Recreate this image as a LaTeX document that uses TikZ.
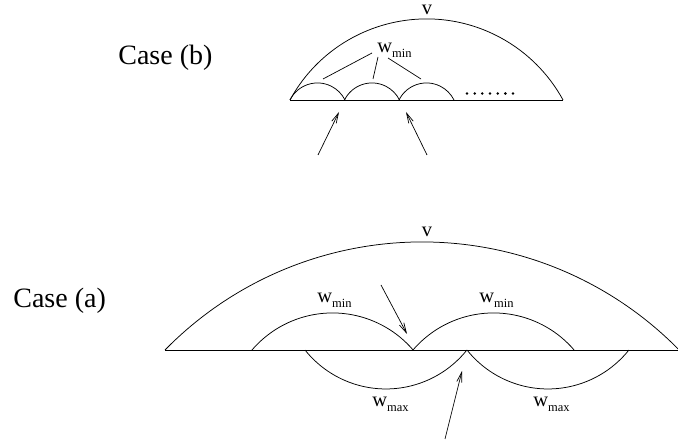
\documentclass[tikz,border=0pt]{standalone}
\usepackage{fontspec}
\setmainfont{Liberation Serif}
\usetikzlibrary{arrows.meta}
\newcommand{\wsub}[1]{w\raisebox{-4.5pt}{\fontsize{12.5}{13}\selectfont #1}}
\begin{document}
\begin{tikzpicture}[x=1pt,y=-1pt,line width=0.75pt,
  caselabel/.style={anchor=base west,inner sep=0pt,font=\fontsize{28}{30}\selectfont},
  wlabel/.style={anchor=base west,inner sep=0pt,font=\fontsize{20.5}{22}\selectfont},
  vlabel/.style={anchor=base,inner sep=0pt,font=\fontsize{20.5}{22}\selectfont},
  ptr/.style={-{Straight Barb[length=10pt,width=5pt]},line width=0.7pt},
  dotmark/.style={fill=black}]
\useasboundingbox (0,0) rectangle (678,443);

% ---------- Case (b) ----------
\node[caselabel] (caseb) at (118,65) {Case (b)};
\coordinate (bL) at (290,100);
\coordinate (bR) at (563,100);
\coordinate (b1) at (344.5,100);
\coordinate (b2) at (399,100);
\draw (bL) -- (bR);
\draw (bL) arc[start angle=151.4,end angle=28.6,radius=155.5pt];
\draw (bL) arc[start angle=153.6,end angle=26.4,radius=30.7pt];
\draw (b1) arc[start angle=153.6,end angle=26.4,radius=30.7pt];
\draw (b2) arc[start angle=153.6,end angle=26.4,radius=30.7pt];
\node[vlabel] (vb) at (427,15) {v};
\node[wlabel] (wb) at (377,53) {\wsub{min}};
\coordinate (t1) at (323,79);
\coordinate (t2) at (373,79);
\coordinate (t3) at (421,79);
\coordinate (s1) at (372,53);
\coordinate (s2) at (378,57);
\coordinate (s3) at (388,58);
\draw[line width=0.7pt] (s1) -- (t1);
\draw[line width=0.7pt] (s2) -- (t2);
\draw[line width=0.7pt] (s3) -- (t3);
\foreach \i in {0,...,6} \fill[dotmark] (467+7.67*\i,93.5) circle (1.4pt);
\coordinate (pb1s) at (318,155);
\coordinate (pb1e) at (339,112);
\coordinate (pb2s) at (427,155);
\coordinate (pb2e) at (406,112);
\draw[ptr] (pb1s) -- (pb1e);
\draw[ptr] (pb2s) -- (pb2e);

% ---------- Case (a) ----------
\node[caselabel] (casea) at (13,308) {Case (a)};
\coordinate (aL) at (165,350);
\coordinate (aR) at (678,350);
\coordinate (u0) at (252,350);
\coordinate (u1) at (413,350);
\coordinate (l0) at (305,350);
\coordinate (l1) at (467,350);
\draw[line width=0.9pt] (aL) -- (aR);
\draw (aL) arc[start angle=135.6,end angle=44.4,radius=359.8pt];
\draw (u0) arc[start angle=139.4,end angle=40.6,radius=106.1pt];
\draw (u1) arc[start angle=139.4,end angle=40.6,radius=106.1pt];
\draw (l0) arc[start angle=-141.4,end angle=-38.6,radius=103.6pt];
\draw (l1) arc[start angle=-141.4,end angle=-38.6,radius=103.6pt];
\node[vlabel] (va) at (427,237) {v};
\node[wlabel] (wa1) at (317,303) {\wsub{min}};
\node[wlabel] (wa2) at (479,303) {\wsub{min}};
\node[wlabel] (wa3) at (372,407) {\wsub{max}};
\node[wlabel] (wa4) at (533,407) {\wsub{max}};
\coordinate (pa1s) at (381,285);
\coordinate (pa1e) at (407,334);
\coordinate (pa2s) at (445,439);
\coordinate (pa2e) at (462,371);
\draw[ptr] (pa1s) -- (pa1e);
\draw[ptr] (pa2s) -- (pa2e);
\end{tikzpicture}
\end{document}
